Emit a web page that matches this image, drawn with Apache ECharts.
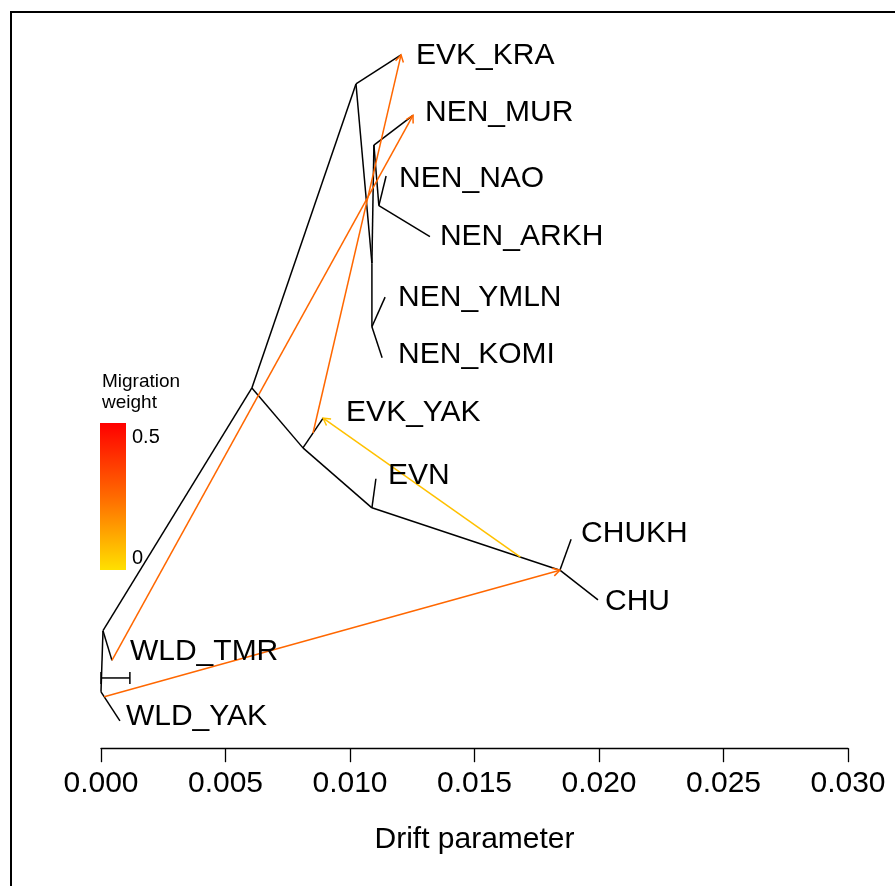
<!DOCTYPE html>
<html><head><meta charset="utf-8">
<script src="https://cdn.jsdelivr.net/npm/echarts@6/dist/echarts.min.js"></script>
<style>html,body{margin:0;padding:0;background:#fff}#c{width:895px;height:886px}</style>
</head><body><div id="c"></div>
<script>
// ---- Data ----
// Nodes of the TreeMix graph: drift parameter (x) and vertical position (leaf order units)
const nodeIds   = ['root','A','B','C','F','G','H','E','D','I','J',
                   'WLD_YAK','WLD_TMR','EVK_KRA','NEN_MUR','NEN_NAO','NEN_ARKH','NEN_YMLN','NEN_KOMI','EVK_YAK','EVN','CHUKH','CHU'];
const nodeDrift = [0.00000,0.00008,0.00606,0.01024,0.01088,0.01096,0.01116,0.01088,0.00811,0.01088,0.01843,
                   0.00076,0.00044,0.01205,0.01253,0.01145,0.01321,0.01141,0.01129,0.00892,0.01104,0.01888,0.01996];
const nodeY     = [1.48,2.49,6.50,11.52,8.56,10.51,9.51,7.51,5.51,4.52,3.49,
                   1,2,12,11,10,9,8,7,6,5,4,3];
// Tree edges (parent -> child)
const edgeParent = ['root','root','A','A','B','B','C','C','F','F','G','G','H','H','E','E','D','D','I','I','J','J'];
const edgeChild  = ['WLD_YAK','A','WLD_TMR','B','C','D','EVK_KRA','F','G','E','NEN_MUR','H','NEN_NAO','NEN_ARKH','NEN_YMLN','NEN_KOMI','EVK_YAK','I','EVN','J','CHUKH','CHU'];
// Leaf labels
const leafNames = ['EVK_KRA','NEN_MUR','NEN_NAO','NEN_ARKH','NEN_YMLN','NEN_KOMI','EVK_YAK','EVN','CHUKH','CHU','WLD_TMR','WLD_YAK'];
// Migration edges: source branch (identified by its child node) and fraction along it, target node, weight
const migFromChild = ['WLD_YAK','WLD_TMR','EVK_YAK','J'];
const migFrac      = [0.17, 1.0, 0.5, 0.79];
const migTo        = ['J','NEN_MUR','EVK_KRA','EVK_YAK'];
const migWeight    = [0.27, 0.27, 0.27, 0.07];
// Axis ticks
const xTicks = [0.000,0.005,0.010,0.015,0.020,0.025,0.030];
// Scale bar (drift length) and its vertical position
const scaleBarLen = 0.00116;
const scaleBarY = 1.71;
// Migration weight legend
const legendTitle = ['Migration','weight'];
const legendTicks = ['0.5','0'];
const legendMax = 0.5;

// ---- Helpers ----
const idx = {}; nodeIds.forEach((n,i)=>idx[n]=i);
const parentOf = {}; edgeChild.forEach((c,i)=>parentOf[c]=edgeParent[i]);
function weightColor(w){
  const t = Math.max(0, Math.min(1, w/legendMax));
  const g = Math.round(224*(1-t));
  return 'rgb(255,'+g+',0)';
}
const edgeData = edgeParent.map((p,i)=>{
  const a=idx[p], b=idx[edgeChild[i]];
  return [nodeDrift[a],nodeY[a],nodeDrift[b],nodeY[b]];
});
const migData = migFromChild.map((c,i)=>{
  const b=idx[c], a=idx[parentOf[c]], f=migFrac[i], t=idx[migTo[i]];
  return [nodeDrift[a]+f*(nodeDrift[b]-nodeDrift[a]), nodeY[a]+f*(nodeY[b]-nodeY[a]), nodeDrift[t], nodeY[t], migWeight[i]];
});
const labelData = leafNames.map(n=>[nodeDrift[idx[n]], nodeY[idx[n]], n]);
// label nudges in pixels (style only)
const labelNudge = {EVK_KRA:[15,1],NEN_MUR:[12,-3],NEN_NAO:[13,3],NEN_ARKH:[10,0],NEN_YMLN:[13,1],NEN_KOMI:[16,-3],
  EVK_YAK:[23,-5],EVN:[12,-3],CHUKH:[10,-6],CHU:[7,2],WLD_TMR:[18,-9],WLD_YAK:[6,-4]};

const FONT = '"Liberation Sans", Arial, Helvetica, sans-serif';
const chart = echarts.init(document.getElementById('c'), null, {renderer:'canvas'});
chart.setOption({
  animation:false,
  backgroundColor:'#fff',
  grid:{left:101, right:47, top:12.5, bottom:137.8},
  xAxis:{type:'value', min:xTicks[0], max:xTicks[xTicks.length-1], interval:0.005,
    name:'Drift parameter', nameLocation:'middle', nameGap:77,
    nameTextStyle:{fontFamily:FONT, fontSize:30, color:'#000'},
    axisLine:{show:true, lineStyle:{color:'#000', width:1.3}},
    axisTick:{show:true, length:14, lineStyle:{color:'#000', width:1.3}},
    axisLabel:{margin:21, fontFamily:FONT, fontSize:30, color:'#000', formatter:v=>v.toFixed(3)},
    splitLine:{show:false}},
  yAxis:{type:'value', min:0.55, max:12.7, show:false, splitLine:{show:false}},
  graphic:[
    {type:'rect', shape:{x:11, y:12, width:1000, height:1000}, style:{fill:null, stroke:'#000', lineWidth:2}, silent:true},
    {type:'text', left:102, top:371, style:{text:legendTitle.join('\n'), fontFamily:FONT, fontSize:19, lineHeight:21, fill:'#000'}},
    {type:'rect', shape:{x:100, y:423, width:26, height:147},
      style:{fill:new echarts.graphic.LinearGradient(0,0,0,1,[{offset:0,color:'#FF0000'},{offset:0.5,color:'#FF6A00'},{offset:1,color:'#FFE000'}])}},
    {type:'text', left:132, top:427, style:{text:legendTicks[0], fontFamily:FONT, fontSize:20, fill:'#000'}},
    {type:'text', left:132, top:548, style:{text:legendTicks[1], fontFamily:FONT, fontSize:20, fill:'#000'}}
  ],
  series:[
    {type:'custom', name:'tree', clip:false, data:edgeData, encode:{x:[0,2], y:[1,3]},
      renderItem:(params, api)=>{
        const p1=api.coord([api.value(0),api.value(1)]), p2=api.coord([api.value(2),api.value(3)]);
        return {type:'line', shape:{x1:p1[0],y1:p1[1],x2:p2[0],y2:p2[1]}, style:{stroke:'#000', lineWidth:1.5}};
      }},
    {type:'custom', name:'scale', clip:false, data:[[0, scaleBarY, scaleBarLen]],
      renderItem:(params, api)=>{
        const p1=api.coord([api.value(0),api.value(1)]), p2=api.coord([api.value(0)+api.value(2),api.value(1)]);
        const h=6;
        return {type:'group', children:[
          {type:'line', shape:{x1:p1[0],y1:p1[1],x2:p2[0],y2:p2[1]}, style:{stroke:'#000',lineWidth:1.5}},
          {type:'line', shape:{x1:p1[0],y1:p1[1]-h,x2:p1[0],y2:p1[1]+h}, style:{stroke:'#000',lineWidth:1.5}},
          {type:'line', shape:{x1:p2[0],y1:p2[1]-h,x2:p2[0],y2:p2[1]+h}, style:{stroke:'#000',lineWidth:1.5}}
        ]};
      }},
    {type:'custom', name:'migration', clip:false, data:migData, encode:{x:[0,2], y:[1,3]}, z:3,
      renderItem:(params, api)=>{
        const p1=api.coord([api.value(0),api.value(1)]), p2=api.coord([api.value(2),api.value(3)]);
        const col=weightColor(api.value(4));
        const ang=Math.atan2(p2[1]-p1[1], p2[0]-p1[0]);
        const L=8, a=Math.PI/6;
        const h1=[p2[0]-L*Math.cos(ang-a), p2[1]-L*Math.sin(ang-a)];
        const h2=[p2[0]-L*Math.cos(ang+a), p2[1]-L*Math.sin(ang+a)];
        return {type:'group', children:[
          {type:'line', shape:{x1:p1[0],y1:p1[1],x2:p2[0],y2:p2[1]}, style:{stroke:col,lineWidth:1.5}},
          {type:'polyline', shape:{points:[h1,p2,h2]}, style:{stroke:col,lineWidth:1.5,fill:null}}
        ]};
      }},
    {type:'custom', name:'labels', clip:false, data:labelData, encode:{x:0, y:1}, z:4,
      renderItem:(params, api)=>{
        const p=api.coord([api.value(0),api.value(1)]);
        const name=labelData[params.dataIndex][2];
        const nd=labelNudge[name]||[12,0];
        return {type:'text', x:p[0]+nd[0], y:p[1]+nd[1],
          style:{text:name, fontFamily:FONT, fontSize:30, fill:'#000', align:'left', verticalAlign:'middle'}};
      }}
  ]
});
</script></body></html>
